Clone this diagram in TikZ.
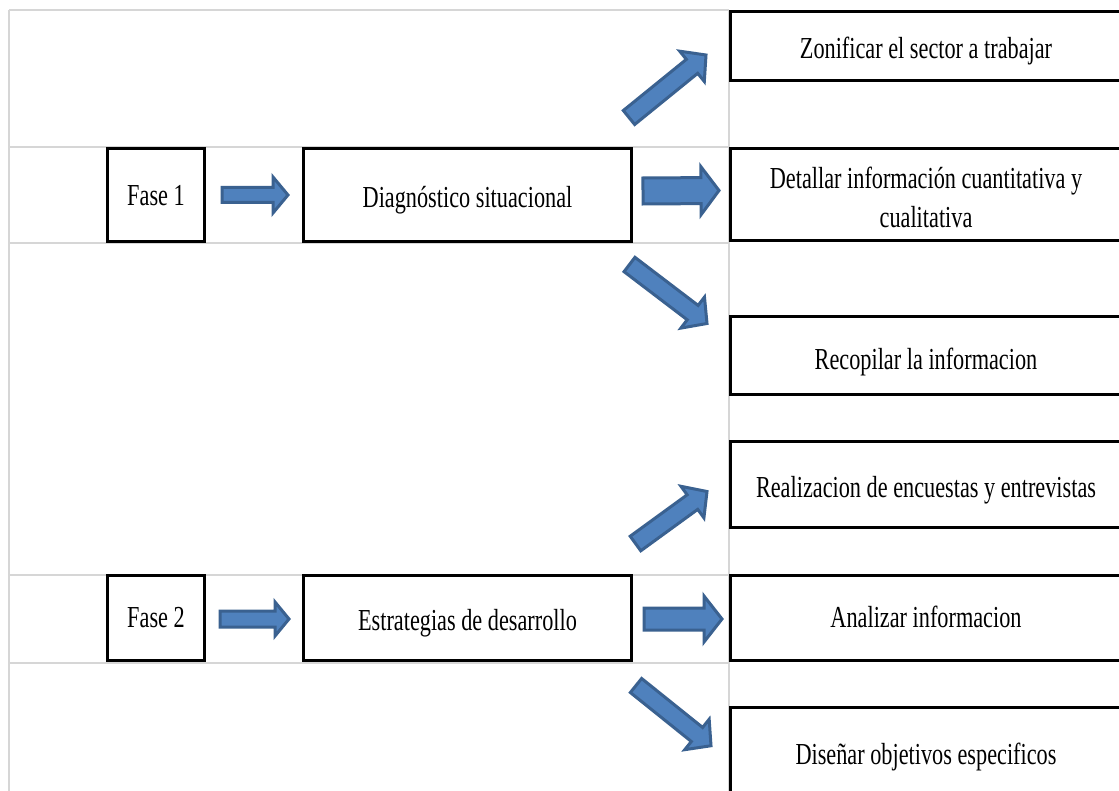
\documentclass[tikz,border=0pt]{standalone}
\usepackage{fontspec}
\setmainfont[FakeStretch=0.73]{Liberation Serif}
\usetikzlibrary{calc}
\definecolor{gridgray}{HTML}{D6D6D6}
\definecolor{arrowfill}{HTML}{4F81BD}
\definecolor{arrowedge}{HTML}{3A6190}
\tikzset{
  box/.style={draw=black, line width=3pt, fill=white, inner sep=0pt,
    font=\fontsize{30.5}{39}\selectfont},
  gridline/.style={draw=gridgray, line width=2pt},
  blockarrow/.style={draw=arrowedge, fill=arrowfill, line width=3pt, line join=miter},
}
\newcommand{\boxtext}[2][4pt]{\raisebox{-#1}[\height][\depth]{\begin{tabular}{@{}c@{}}#2\end{tabular}}}
% #1 tail, #2 tip, #3 shaft half width, #4 head half width, #5 head length
\newcommand{\blockarr}[5]{%
  \coordinate (ba-h) at ($(#2)!#5!(#1)$);
  \path[blockarrow] ($(#1)!#3!90:(#2)$) -- ($(ba-h)!#3!-90:(#1)$) -- ($(ba-h)!#4!-90:(#1)$)
    -- (#2) -- ($(ba-h)!#4!90:(#1)$) -- ($(ba-h)!#3!90:(#1)$) -- ($(#1)!#3!-90:(#2)$) -- cycle;
}
\begin{document}
\begin{tikzpicture}[x=1pt,y=-1pt]
\useasboundingbox (0,0) rectangle (1119,791);
\fill[white] (0,0) rectangle (1119,791);
\begin{scope}
\clip (0,0) rectangle (1119,791);
% spreadsheet gridlines
\draw[gridline] (9,10) -- (729,10);
\draw[gridline] (9,147) -- (729,147);
\draw[gridline] (9,243) -- (729,243);
\draw[gridline] (9,575) -- (729,575);
\draw[gridline] (9,663) -- (729,663);
\draw[gridline] (9,10) -- (9,791);
\draw[gridline] (729,10) -- (729,791);
% boxes
\node[box, minimum width=97pt, minimum height=93pt] (fase1) at (156,195) {\boxtext[3pt]{Fase 1}};
\node[box, minimum width=328pt, minimum height=93pt] (diag) at (467.5,195) {\boxtext[5pt]{Diagnóstico situacional}};
\node[box, minimum width=391pt, minimum height=69pt] (zon) at (926,46) {\boxtext[5pt]{Zonificar el sector a trabajar}};
\node[box, minimum width=391pt, minimum height=92pt] (det) at (926,194.5) {\boxtext[6pt]{Detallar información cuantitativa y\\cualitativa}};
\node[box, minimum width=391pt, minimum height=78pt] (rec) at (926,355.5) {\boxtext[6pt]{Recopilar la informacion}};
\node[box, minimum width=391pt, minimum height=86pt] (rea) at (926,484.5) {\boxtext[5pt]{Realizacion de encuestas y entrevistas}};
\node[box, minimum width=97pt, minimum height=85pt] (fase2) at (156,618) {\boxtext[2pt]{Fase 2}};
\node[box, minimum width=328pt, minimum height=85pt] (est) at (467.5,618) {\boxtext[5pt]{Estrategias de desarrollo}};
\node[box, minimum width=391pt, minimum height=85pt] (ana) at (926,618) {\boxtext[2pt]{Analizar informacion}};
\node[box, minimum width=391pt, minimum height=92.5pt] (dis) at (926,753.75) {\boxtext[3pt]{Diseñar objetivos especificos}};
% arrow end points
\coordinate (a1t) at ($(fase1.east)+(16,0)$);
\coordinate (a1h) at ($(diag.west)+(-14,0)$);
\coordinate (a2t) at ($(diag.east)+(10,-4)$);
\coordinate (a2h) at ($(det.west)+(-10,-4)$);
\coordinate (a3t) at ($(diag.north east)+(-4,-29.5)$);
\coordinate (a3h) at ($(zon.south west)+(-23,-27)$);
\coordinate (a4t) at ($(diag.south east)+(-3.5,21.5)$);
\coordinate (a4h) at ($(rec.north west)+(-22,8.5)$);
\coordinate (b1t) at ($(fase2.east)+(14,1)$);
\coordinate (b1h) at ($(est.west)+(-13,1)$);
\coordinate (b2t) at ($(est.east)+(11,1)$);
\coordinate (b2h) at ($(ana.west)+(-7,1)$);
\coordinate (b3t) at ($(est.north east)+(2.5,-30.5)$);
\coordinate (b3h) at ($(rea.west)+(-22,7)$);
\coordinate (b4t) at ($(est.south east)+(3,23.5)$);
\coordinate (b4h) at ($(dis.west)+(-18,-8)$);
% block arrows
\blockarr{a1t}{a1h}{7.5pt}{18pt}{15pt}
\blockarr{a2t}{a2h}{13pt}{24pt}{18pt}
\blockarr{a3t}{a3h}{9pt}{19.5pt}{18pt}
\blockarr{a4t}{a4h}{9pt}{19.5pt}{18pt}
\blockarr{b1t}{b1h}{8pt}{17pt}{14pt}
\blockarr{b2t}{b2h}{11pt}{23pt}{18pt}
\blockarr{b3t}{b3h}{9pt}{19.5pt}{18pt}
\blockarr{b4t}{b4h}{9pt}{19.5pt}{18pt}
\end{scope}
\end{tikzpicture}
\end{document}
